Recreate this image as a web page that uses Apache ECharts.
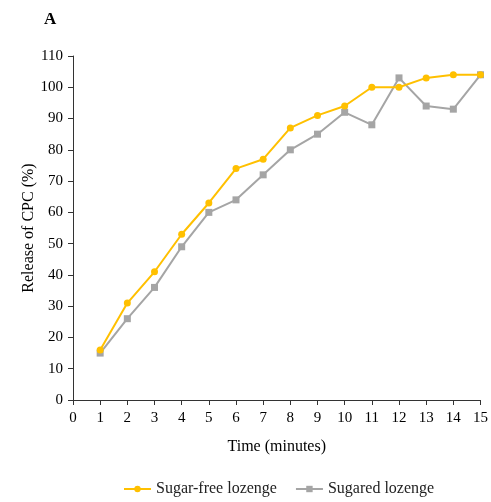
<!DOCTYPE html>
<html>
<head>
<meta charset="utf-8">
<script src="https://cdn.jsdelivr.net/npm/echarts@6/dist/echarts.min.js"></script>
<style>
	html, body { margin: 0; padding: 0; background: #fff; }
	#chart { width: 491px; height: 502px; }
</style>
</head>
<body>
<div id="chart"></div>
<script>
	var times = [1, 2, 3, 4, 5, 6, 7, 8, 9, 10, 11, 12, 13, 14, 15];
	var sugarFree = [16, 31, 41, 53, 63, 74, 77, 87, 91, 94, 100, 100, 103, 104, 104];
	var sugared = [15, 26, 36, 49, 60, 64, 72, 80, 85, 92, 88, 103, 94, 93, 104];

	function pairs(vals) {
		var out = [];
		for (var i = 0; i < times.length; i++) {
			out.push([times[i], vals[i]]);
		}
		return out;
	};

	var font = "'Liberation Serif', 'DejaVu Serif', serif";
	var chart = echarts.init(document.getElementById('chart'));

	var option = {
		backgroundColor: '#fff',
		animation: false,
		textStyle: { fontFamily: font },
		title: {
			text: 'A',
			left: 39,
			top: 6,
			textStyle: { fontFamily: font, fontSize: 17, fontWeight: 'bold', color: '#000' }
		},
		grid: { left: 73, right: 8, top: 56, bottom: 102 },
		legend: {
			data: ['Sugar-free lozenge', 'Sugared lozenge'],
			top: 476,
			left: 118,
			itemWidth: 27,
			itemHeight: 8,
			itemGap: 18,
			textStyle: { fontFamily: font, fontSize: 16, color: '#222' }
		},
		xAxis: {
			type: 'value',
			min: 0,
			max: 15,
			interval: 1,
			name: 'Time (minutes)',
			nameLocation: 'middle',
			nameGap: 39,
			nameTextStyle: { fontFamily: font, fontSize: 16, color: '#000' },
			splitLine: { show: false },
			axisLine: { lineStyle: { color: '#333', width: 1 } },
			axisTick: { show: true, length: 5, lineStyle: { color: '#333' } },
			axisLabel: { fontFamily: font, fontSize: 15, color: '#000', margin: 11 }
		},
		yAxis: {
			type: 'value',
			min: 0,
			max: 110,
			interval: 10,
			name: 'Release of CPC (%)',
			nameLocation: 'middle',
			nameGap: 36,
			nameMoveOverlap: false,
			nameTextStyle: { fontFamily: font, fontSize: 16, color: '#000' },
			splitLine: { show: false },
			axisLine: { show: true, lineStyle: { color: '#333', width: 1 } },
			axisTick: { show: true, length: 5, lineStyle: { color: '#333' } },
			axisLabel: { fontFamily: font, fontSize: 15, color: '#000', margin: 10 }
		},
		series: [{
				name: 'Sugar-free lozenge',
				type: 'line',
				data: pairs(sugarFree),
				symbol: 'circle',
				symbolSize: 7,
				z: 3,
				itemStyle: { color: '#FFC000' },
				lineStyle: { color: '#FFC000', width: 2 }
			},
			{
				name: 'Sugared lozenge',
				type: 'line',
				data: pairs(sugared),
				symbol: 'rect',
				symbolSize: 7,
				z: 2,
				itemStyle: { color: '#A5A5A5' },
				lineStyle: { color: '#A5A5A5', width: 2 }
			}
		]
	};
	chart.setOption(option);
</script>
</body>
</html>
